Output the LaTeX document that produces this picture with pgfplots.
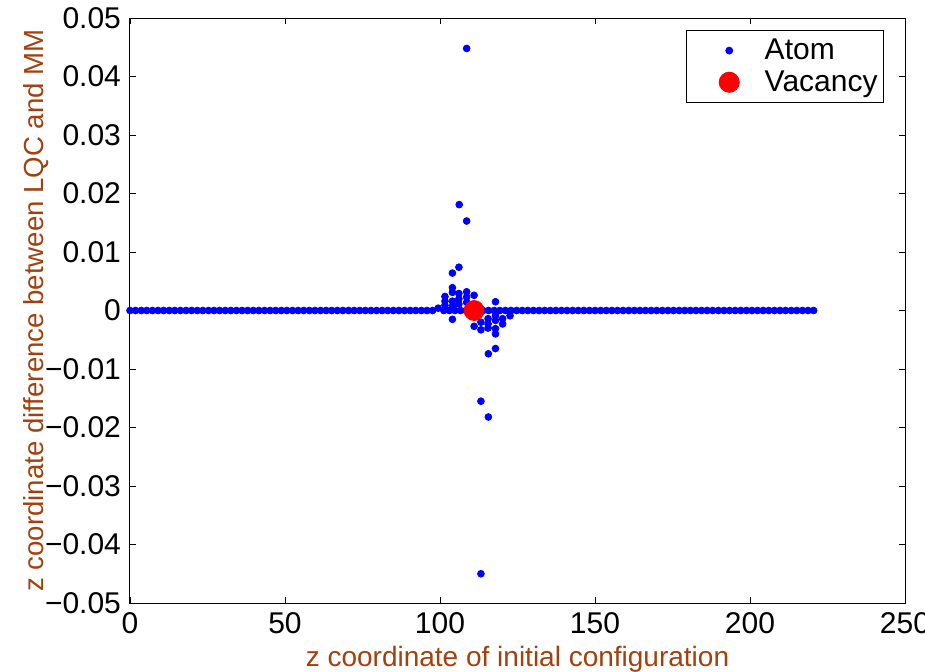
\documentclass[border=0pt]{standalone}
\usepackage{fontspec}
\setmainfont{Liberation Sans}
\usepackage{pgfplots}
\pgfplotsset{compat=1.18}
\definecolor{labbrown}{RGB}{163,65,14}
\definecolor{mblue}{RGB}{0,0,255}
\definecolor{mred}{RGB}{255,0,0}

\begin{document}
\begin{tikzpicture}
\useasboundingbox (-65pt,-34pt) rectangle (397.5pt,301.5pt);
\begin{axis}[
  at={(0,0)}, anchor=south west,
  scale only axis, width=387.5pt, height=292.5pt,
  xmin=0, xmax=250, ymin=-0.05, ymax=0.05,
  xtick={0,50,...,250},
  ytick={-0.05,-0.04,-0.03,-0.02,-0.01,0,0.01,0.02,0.03,0.04,0.05},
  yticklabels={−0.05,−0.04,−0.03,−0.02,−0.01,0,0.01,0.02,0.03,0.04,0.05},
  scaled y ticks=false,
  /pgf/number format/assume math mode=true,
  tick align=inside, major tick length=3pt,
  xtick pos=both, ytick pos=both,
  tick style={black, line width=0.4pt},
  axis line style={black, line width=0.5pt},
  ticklabel style={font=\fontsize{15}{17}\selectfont},
  xticklabel style={yshift=-1pt},
  yticklabel style={xshift=-1pt},
  xlabel={z coordinate of initial configuration},
  ylabel={z coordinate difference between LQC and MM},
  xlabel style={font=\fontsize{14}{16}\selectfont, text=labbrown,
    at={(axis description cs:0.5,0)}, anchor=north, yshift=-18pt},
  ylabel style={font=\fontsize{13.8}{16}\selectfont, text=labbrown,
    at={(axis description cs:0,0.5)}, anchor=south, yshift=37pt},
  legend style={at={(axis description cs:0.973,0.979)}, anchor=north east,
    draw=black, line width=0.5pt, font=\fontsize{15}{17}\selectfont,
    inner xsep=1pt, inner ysep=2pt, row sep=0pt, cells={anchor=west}},
  legend image code/.code={\path (0pt,0pt) (35.5pt,0pt); \draw[#1] plot coordinates {(20pt,0pt)};},
  legend cell align=left,
]
\addplot[only marks, mark=*, mark size=1.7pt, color=mblue, mark options={draw=mblue, fill=mblue}] coordinates {
(0,0) (1.81,0) (3.62,0) (5.42,0) (7.23,0) (9.04,0) (10.85,0) (12.65,0) (14.46,0) (16.27,0)
(18.08,0) (19.88,0) (21.69,0) (23.50,0) (25.31,0) (27.11,0) (28.92,0) (30.73,0) (32.54,0) (34.34,0)
(36.15,0) (37.96,0) (39.77,0) (41.57,0) (43.38,0) (45.19,0) (47.00,0) (48.80,0) (50.61,0) (52.42,0)
(54.23,0) (56.03,0) (57.84,0) (59.65,0) (61.46,0) (63.26,0) (65.07,0) (66.88,0) (68.69,0) (70.49,0)
(72.30,0) (74.11,0) (75.92,0) (77.72,0) (79.53,0) (81.34,0) (83.15,0) (84.95,0) (86.76,0) (88.57,0)
(90.38,0) (92.18,0) (93.99,0) (95.80,0) (97.61,0) (99.41,0.0004) (101.22,0) (103.03,0) (104.84,0) (106.64,0)
(108.45,0) (110.26,0) (112.07,0) (113.87,0) (115.68,0) (117.49,0) (119.30,0) (121.10,0) (122.91,0) (124.72,0)
(126.53,0) (128.33,0) (130.14,0) (131.95,0) (133.76,0) (135.56,0) (137.37,0) (139.18,0) (140.99,0) (142.79,0)
(144.60,0) (146.41,0) (148.22,0) (150.02,0) (151.83,0) (153.64,0) (155.45,0) (157.25,0) (159.06,0) (160.87,0)
(162.68,0) (164.48,0) (166.29,0) (168.10,0) (169.91,0) (171.71,0) (173.52,0) (175.33,0) (177.14,0) (178.94,0)
(180.75,0) (182.56,0) (184.37,0) (186.17,0) (187.98,0) (189.79,0) (191.60,0) (193.40,0) (195.21,0) (197.02,0)
(198.83,0) (200.63,0) (202.44,0) (204.25,0) (206.06,0) (207.86,0) (209.67,0) (211.48,0) (213.29,0) (215.09,0)
(216.90,0) (218.71,0) (220.52,0)
(108.6,0.0448) (106.2,0.0181) (108.6,0.0153)
(106.1,0.0074) (104.0,0.0064) (104.0,0.0039) (104.0,0.0031) (108.6,0.0032) (111.0,0.0026)
(101.6,0.0024) (101.6,0.0016) (101.6,0.0009) (104.0,0.0016) (104.0,0.0007)
(106.1,0.0029) (106.1,0.0020) (106.1,0.0011) (108.6,0.0023) (108.6,0.0014) (117.9,0.0015)
(104.0,-0.0015) (111.0,-0.0027) (113.2,-0.0020) (113.2,-0.0033)
(115.5,-0.0014) (115.5,-0.0023) (115.5,-0.0030)
(117.9,-0.0009) (117.9,-0.0017) (117.9,-0.0031) (117.9,-0.0040)
(120.2,-0.0014) (120.2,-0.0023) (122.6,-0.0009)
(115.6,-0.0074) (117.9,-0.0065)
(113.2,-0.0155) (115.6,-0.0182) (113.2,-0.0450)
};
\addlegendentry{Atom}
\addplot[only marks, mark=*, mark size=5pt, color=mred, mark options={draw=mred, fill=mred}] coordinates {(111,0)};
\addlegendentry{Vacancy}
\end{axis}
\end{tikzpicture}
\end{document}
